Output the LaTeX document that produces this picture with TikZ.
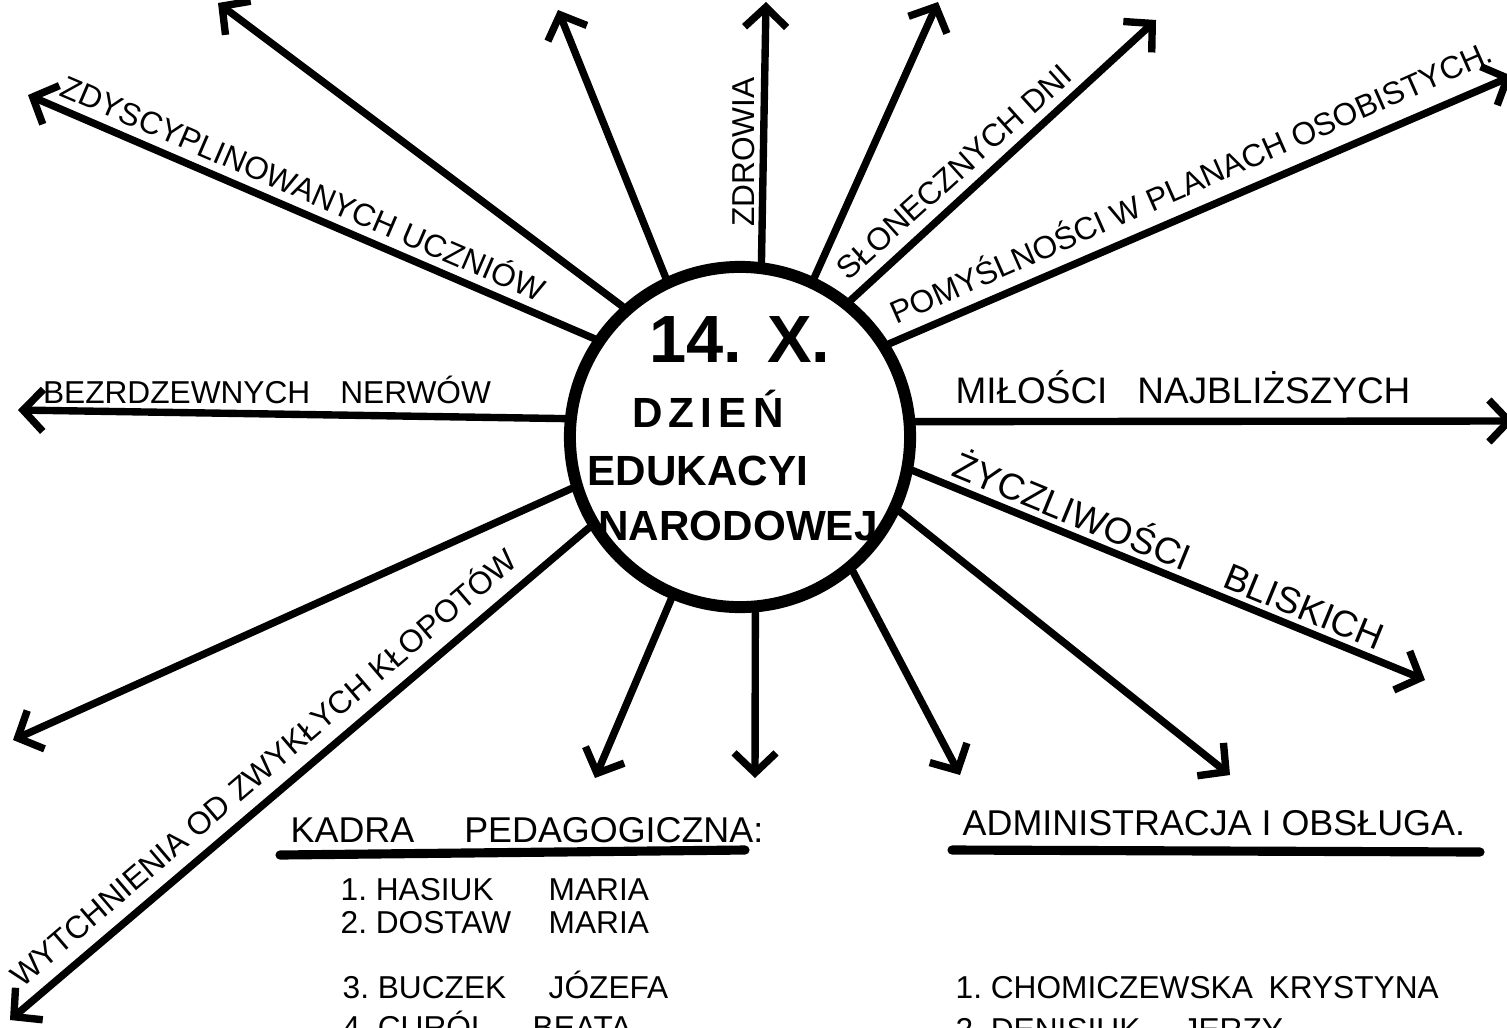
\documentclass[tikz,border=0pt]{standalone}
\usepackage{fontspec}
\setmainfont{Liberation Sans}
\usetikzlibrary{arrows.meta}

\begin{document}
\begin{tikzpicture}[x=0.01cm,y=-0.01cm,line cap=round,line join=round,
    ray/.style={line width=2.1pt,-{Straight Barb[length=2mm,width=4.2mm]}},
    hub/.style={circle,draw,line width=3.4pt,minimum size=3.4cm,inner sep=0pt},
    lbl/.style={font=\fontsize{9}{11}\selectfont,inner sep=0pt},
    lblw/.style={font=\fontsize{10.5}{12}\selectfont,inner sep=0pt},
    ctr/.style={font=\bfseries\fontsize{12}{14}\selectfont,inner sep=0pt,anchor=base},
    head/.style={font=\fontsize{10.2}{12}\selectfont,inner sep=0pt,anchor=base west},
    item/.style={font=\fontsize{9}{11}\selectfont,inner sep=0pt,anchor=base west},
    uline/.style={line width=2.6pt}]
\useasboundingbox (0,0) rectangle (1507,1027);

\node[hub] (hub) at (740,437) {};

% rays: number / border angle / tip
\foreach \i/\a/\x/\y in {
    1/132/218/3,
    2/115/558/10,
    3/83/766/2,
    4/65/938/2,
    5/51/1156/20,
    6/32/1512/76,
    7/5/1514/421,
    8/-11/1425/680,
    9/-25/1230/775,
    10/-50/960/775,
    11/-85/755/778,
    12/-113/595/778,
    13/-149/10/1020,
    14/-163/13/740,
    15/174/18/410,
    16/146/28/95
}
{
    \coordinate (tip\i) at (\x,\y);
    \draw[ray] (hub.\a) -- (tip\i);
}

% wishes
\node[lbl,rotate=-23.3] (zdysc) at (304,186) {ZDYSCYPLINOWANYCH UCZNIÓW};
\node[lbl,anchor=base] (nerwy) at (267,403) {BEZRDZEWNYCH\hspace{3mm}NERWÓW};
\node[lbl,rotate=40.5] (wytch) at (262,766) {WYTCHNIENIA OD ZWYKŁYCH KŁOPOTÓW};
\node[lbl,rotate=90] (zdrow) at (744,152) {ZDROWIA};
\node[lbl,rotate=42] (dni) at (954,172) {SŁONECZNYCH DNI};
\node[lbl,rotate=23.8] (plany) at (1190,180) {POMYŚLNOŚCI W PLANACH OSOBISTYCH.};
\node[lblw,anchor=base] (milosc) at (1183,403) {MIŁOŚCI\hspace{3mm}NAJBLIŻSZYCH};
\node[lblw,rotate=-22.3] (zycz) at (1170,548) {ŻYCZLIWOŚCI\hspace{4mm}BLISKICH};

% centre
\node[ctr,font=\bfseries\fontsize{19}{22}\selectfont] (data) at (740,362) {14. X.};
\node[ctr,font=\bfseries\fontsize{12}{14}\selectfont\addfontfeature{LetterSpace=15}] (dzien) at (708,427) {DZIEŃ};
\node[ctr] (eduk) at (698,485) {EDUKACYI};
\node[ctr] (narod) at (738,540) {NARODOWEJ};

% lists
\node[head] (kadra) at (290,842) {KADRA\hspace{5mm}PEDAGOGICZNA:};
\draw[uline] (280,855) -- (745,850);
\node[item] (k1) at (340,900) {1.\ HASIUK};
\node[item] (k1b) at (548,900) {MARIA};
\node[item] (k2) at (340,933) {2.\ DOSTAW};
\node[item] (k2b) at (548,933) {MARIA};
\node[item] (k3) at (342,998) {3.\ BUCZEK};
\node[item] (k3b) at (548,998) {JÓZEFA};
\node[item] (k4) at (342,1038) {4.\ CURÓL};
\node[item] (k4b) at (532,1038) {BEATA};

\node[head] (admin) at (962,835) {ADMINISTRACJA I OBSŁUGA.};
\draw[uline] (952,850) -- (1480,852);
\node[item] (a1) at (955,998) {1.\ CHOMICZEWSKA};
\node[item] (a1b) at (1268,998) {KRYSTYNA};
\node[item] (a2) at (955,1040) {2.\ DENISIUK};
\node[item] (a2b) at (1182,1040) {JERZY};
\end{tikzpicture}
\end{document}
